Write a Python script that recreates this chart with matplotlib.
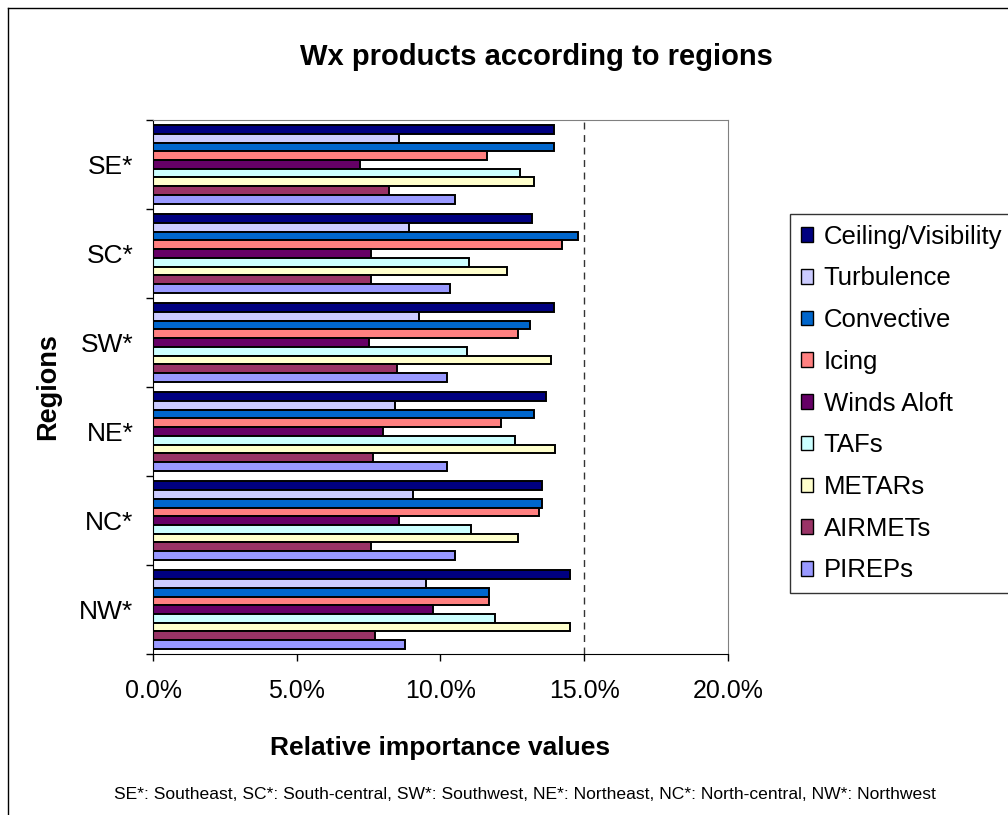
import matplotlib.pyplot as plt
import numpy as np
from matplotlib.patches import Patch
from matplotlib.lines import Line2D
from matplotlib.ticker import FuncFormatter, MultipleLocator, FixedLocator

plt.rcParams['font.family'] = ['Liberation Sans', 'DejaVu Sans']

regions = ['SE*', 'SC*', 'SW*', 'NE*', 'NC*', 'NW*']
products = ['Ceiling/Visibility', 'Turbulence', 'Convective', 'Icing',
            'Winds Aloft', 'TAFs', 'METARs', 'AIRMETs', 'PIREPs']
colors = ['#000080', '#CCCCFF', '#0066CC', '#FF8080', '#660066',
          '#CCFFFF', '#FFFFCC', '#993366', '#9999FF']

# relative importance (%) per product, listed in region order SE..NW
ceiling_vis = [13.95, 13.17, 13.95, 13.67, 13.52, 14.51]
turbulence = [8.57, 8.91, 9.25, 8.41, 9.05, 9.48]
convective = [13.95, 14.78, 13.11, 13.24, 13.52, 11.70]
icing = [11.63, 14.21, 12.68, 12.11, 13.44, 11.70]
winds_aloft = [7.19, 7.59, 7.52, 8.00, 8.57, 9.75]
tafs = [12.75, 11.00, 10.93, 12.60, 11.07, 11.91]
metars = [13.24, 12.33, 13.86, 13.99, 12.68, 14.51]
airmets = [8.21, 7.59, 8.50, 7.66, 7.59, 7.73]
pireps = [10.51, 10.32, 10.23, 10.23, 10.51, 8.78]

series = [ceiling_vis, turbulence, convective, icing, winds_aloft,
          tafs, metars, airmets, pireps]

fig = plt.figure(figsize=(10.08, 8.15), dpi=100)
ax = fig.add_axes([0.1518, 0.1975, 0.5704, 0.6553])

n_reg = len(regions)
n_prod = len(products)
bar_h = 0.0975
# SE at top, NW at bottom
centers = np.arange(n_reg)[::-1].astype(float)
offsets = (np.arange(n_prod)[::-1] - (n_prod - 1) / 2) * bar_h

for vals, off, col in zip(series, offsets, colors):
    ax.barh(centers + off, vals, height=bar_h, color=col,
            edgecolor='black', linewidth=1.4)

ax.set_xlim(0, 20)
ax.set_ylim(-0.5, n_reg - 0.5)
ax.xaxis.set_major_locator(MultipleLocator(5))
ax.xaxis.set_major_formatter(FuncFormatter(lambda v, p: f'{v:.1f}%'))
ax.axvline(15, color='#333333', linestyle=(0, (5, 4)), linewidth=1)

# ticks on category boundaries, labels at category centres
ax.yaxis.set_major_locator(FixedLocator(np.arange(n_reg + 1) - 0.5))
ax.yaxis.set_major_formatter(FuncFormatter(lambda v, p: ''))
ax.yaxis.set_minor_locator(FixedLocator(centers))
ax.set_yticklabels(regions, minor=True)
ax.tick_params(axis='y', which='major', length=5, width=1, direction='out')
ax.tick_params(axis='y', which='minor', length=0, pad=14, labelsize=19)
ax.tick_params(axis='x', length=5, width=1, direction='out', pad=13,
               labelsize=18)

for side in ['top', 'right']:
    ax.spines[side].set_color('#808080')
for side in ['left', 'bottom']:
    ax.spines[side].set_color('black')

ax.set_xlabel('Relative importance values', fontsize=19, fontweight='bold',
              labelpad=24)
ax.set_ylabel('Regions', fontsize=19.5, fontweight='bold', labelpad=13)

fig.text(0.532, 0.93, 'Wx products according to regions', ha='center',
         va='center', fontsize=21, fontweight='bold')

fig.text(0.521, 0.025,
         'SE*: Southeast, SC*: South-central, SW*: Southwest, NE*: Northeast, '
         'NC*: North-central, NW*: Northwest',
         ha='center', va='center', fontsize=12.6)

handles = [Patch(facecolor=c, edgecolor='black', linewidth=1) for c in colors]
leg = fig.legend(handles, products, loc='upper left',
                 bbox_to_anchor=(0.784, 0.737), fontsize=18.5, frameon=True,
                 fancybox=False, edgecolor='black', handlelength=0.5,
                 handleheight=0.5, handletextpad=0.4, labelspacing=0.69,
                 borderpad=0.4, borderaxespad=0)
leg.get_frame().set_linewidth(1)

# outer chart border
fig.add_artist(Line2D([0.008, 0.008], [0, 0.99], transform=fig.transFigure,
                      color='black', linewidth=1))
fig.add_artist(Line2D([0.008, 1.0], [0.99, 0.99], transform=fig.transFigure,
                      color='black', linewidth=1))

fig.savefig('out.png', dpi=100)
